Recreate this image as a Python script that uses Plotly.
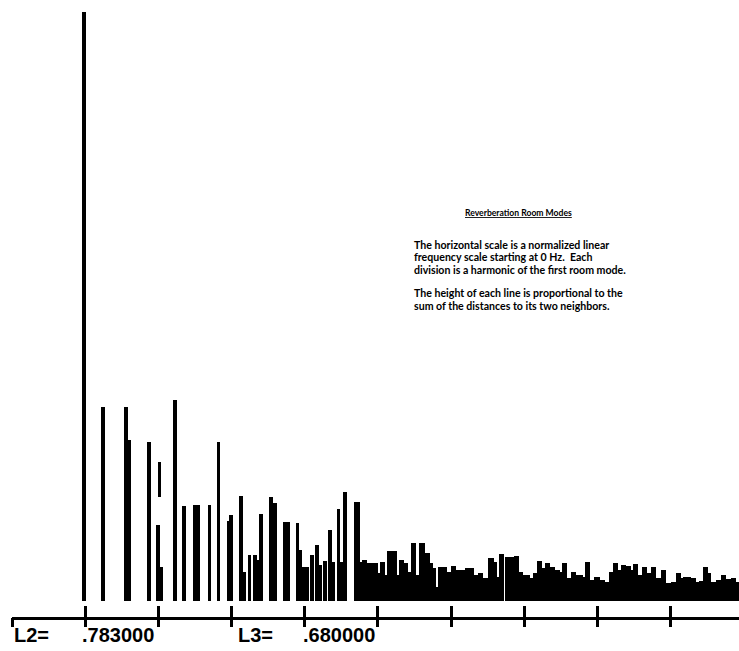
import plotly.graph_objects as go

# Room-mode positions (in harmonics of the first room mode) and line heights
sparse_x = [0.987, 1.242, 1.561, 1.605, 1.866, 1.991, 2.032, 2.230, 2.353, 2.504,
            2.545, 2.699, 2.822, 2.959, 2.996, 3.128, 3.173, 3.246, 3.324, 3.358,
            3.406, 3.538, 3.597, 3.727, 3.768, 3.902, 3.939, 3.987, 4.034, 4.099,
            4.167, 4.212, 4.281, 4.349, 4.394, 4.462, 4.506, 4.554]
sparse_h = [5.89, 1.94, 1.94, 1.61, 1.59, 0.76, 0.34, 2.01, 0.95, 0.96,
            0.96, 0.96, 1.59, 0.80, 0.86, 1.05, 0.29, 0.46, 0.46, 0.41,
            0.87, 1.04, 0.98, 0.79, 0.79, 0.78, 0.51, 0.34, 0.34, 0.46,
            0.56, 0.36, 0.40, 0.71, 0.39, 0.92, 0.39, 1.09]

dense_x = [4.714, 4.766, 4.814, 4.868, 4.923, 4.971, 5.012, 5.060, 5.107, 5.159,
           5.228, 5.265, 5.319, 5.374, 5.419, 5.487, 5.538, 5.602, 5.670, 5.716,
           5.761, 5.811, 5.859, 5.914, 5.961, 6.034, 6.102, 6.167, 6.228, 6.283,
           6.331, 6.399, 6.467, 6.545, 6.590, 6.638, 6.693, 6.775, 6.823, 6.898,
           6.953, 6.993, 7.041, 7.105, 7.151, 7.209, 7.264, 7.319, 7.379, 7.447,
           7.499, 7.547, 7.606, 7.674, 7.725, 7.773, 7.820, 7.865, 7.926, 7.994,
           8.062, 8.130, 8.189, 8.244, 8.299, 8.357, 8.426, 8.472, 8.517, 8.572,
           8.645, 8.699, 8.768, 8.836, 8.904, 8.964, 9.041, 9.109, 9.164, 9.205,
           9.246, 9.314, 9.382, 9.429, 9.474, 9.519, 9.587, 9.656, 9.724, 9.793,
           9.861, 9.929]
dense_h = [0.99, 0.39, 0.41, 0.38, 0.38, 0.38, 0.28, 0.39, 0.26, 0.50,
           0.50, 0.26, 0.41, 0.38, 0.29, 0.58, 0.26, 0.58, 0.48, 0.38,
           0.33, 0.14, 0.34, 0.34, 0.29, 0.35, 0.31, 0.31, 0.33, 0.33,
           0.26, 0.28, 0.23, 0.43, 0.39, 0.24, 0.47, 0.44, 0.44, 0.45,
           0.29, 0.26, 0.26, 0.23, 0.28, 0.40, 0.33, 0.38, 0.34, 0.31,
           0.29, 0.38, 0.23, 0.29, 0.26, 0.26, 0.24, 0.39, 0.21, 0.24,
           0.21, 0.19, 0.29, 0.38, 0.31, 0.36, 0.35, 0.31, 0.37, 0.26,
           0.34, 0.28, 0.34, 0.23, 0.31, 0.18, 0.19, 0.28, 0.23, 0.24,
           0.24, 0.23, 0.19, 0.20, 0.34, 0.28, 0.19, 0.21, 0.26, 0.22,
           0.23, 0.19]

# broken (floating) piece of the line near the 2nd harmonic
seg_x = [2.016]
seg_base = [1.04]
seg_h = [0.35]

tick_vals = [0, 1, 2, 3, 4, 5, 6, 7, 8, 9]

title_text = "Reverberation Room Modes"
para_lines = ["The horizontal scale is a normalized linear",
              "frequency scale starting at 0 Hz.  Each",
              "division is a harmonic of the first room mode.",
              "The height of each line is proportional to the",
              "sum of the distances to its two neighbors."]
axis_labels = ["L2=", ".783000", "L3=", ".680000"]

W, H = 739, 651
L, R, T, B = 12, 0, 0, 34
pw, ph = W - L - R, H - T - B
PX = 73.17  # pixels per harmonic


def px_x(p):
    return (p - L) / pw


def px_y(p):
    return (H - B - p) / ph


fig = go.Figure()
fig.add_trace(go.Bar(x=sparse_x, y=sparse_h, width=0.054,
                     marker=dict(color="black", line=dict(width=0))))
fig.add_trace(go.Bar(x=dense_x, y=dense_h, width=0.072,
                     marker=dict(color="black", line=dict(width=0))))
fig.add_trace(go.Bar(x=seg_x, y=seg_h, base=seg_base, width=0.045,
                     marker=dict(color="black", line=dict(width=0))))

xr = [0, pw / PX]
fig.update_layout(
    width=W, height=H,
    margin=dict(l=L, r=R, t=T, b=B, pad=0),
    paper_bgcolor="white", plot_bgcolor="white",
    showlegend=False, barmode="overlay", bargap=0,
    xaxis=dict(range=xr, showgrid=False, zeroline=False, showline=True,
               linecolor="black", linewidth=3, ticks="inside", ticklen=11,
               tickwidth=3, tickcolor="black", tickvals=tick_vals,
               showticklabels=False),
    xaxis2=dict(range=xr, overlaying="x", anchor="y", side="bottom",
                showgrid=False, zeroline=False, showline=False,
                ticks="outside", ticklen=9, tickwidth=3, tickcolor="black",
                tickvals=tick_vals, showticklabels=False),
    yaxis=dict(range=[-0.16, 6.01], visible=False),
)
# empty trace so that the second (outer tick) axis is drawn
fig.add_trace(go.Scatter(x=[], y=[], xaxis="x2", yaxis="y"))

title_font = dict(family="Lato, 'Open Sans', sans-serif", size=8.6, color="black")
txt_font = dict(family="Lato, 'Open Sans', sans-serif", size=10.6, color="black")
fig.add_annotation(xref="paper", yref="paper", x=px_x(518), y=px_y(213),
                   text="<b><u>" + title_text + "</u></b>", showarrow=False,
                   xanchor="center", yanchor="middle", font=title_font)
for line, py in zip(para_lines, [245, 257.5, 270, 293.5, 306]):
    fig.add_annotation(xref="paper", yref="paper", x=px_x(412), y=px_y(py),
                       text="<b>" + line + "</b>", showarrow=False,
                       xanchor="left", yanchor="middle", align="left",
                       font=txt_font)

lab_font = dict(family="'Liberation Sans', Arial, sans-serif", size=20, color="black")
for t, p in zip(axis_labels, [12, 80, 236, 301]):
    fig.add_annotation(xref="paper", yref="paper", x=px_x(p), y=px_y(635),
                       text="<b>" + t + "</b>", showarrow=False,
                       xanchor="left", yanchor="middle", font=lab_font)

fig.write_html("out.html")
